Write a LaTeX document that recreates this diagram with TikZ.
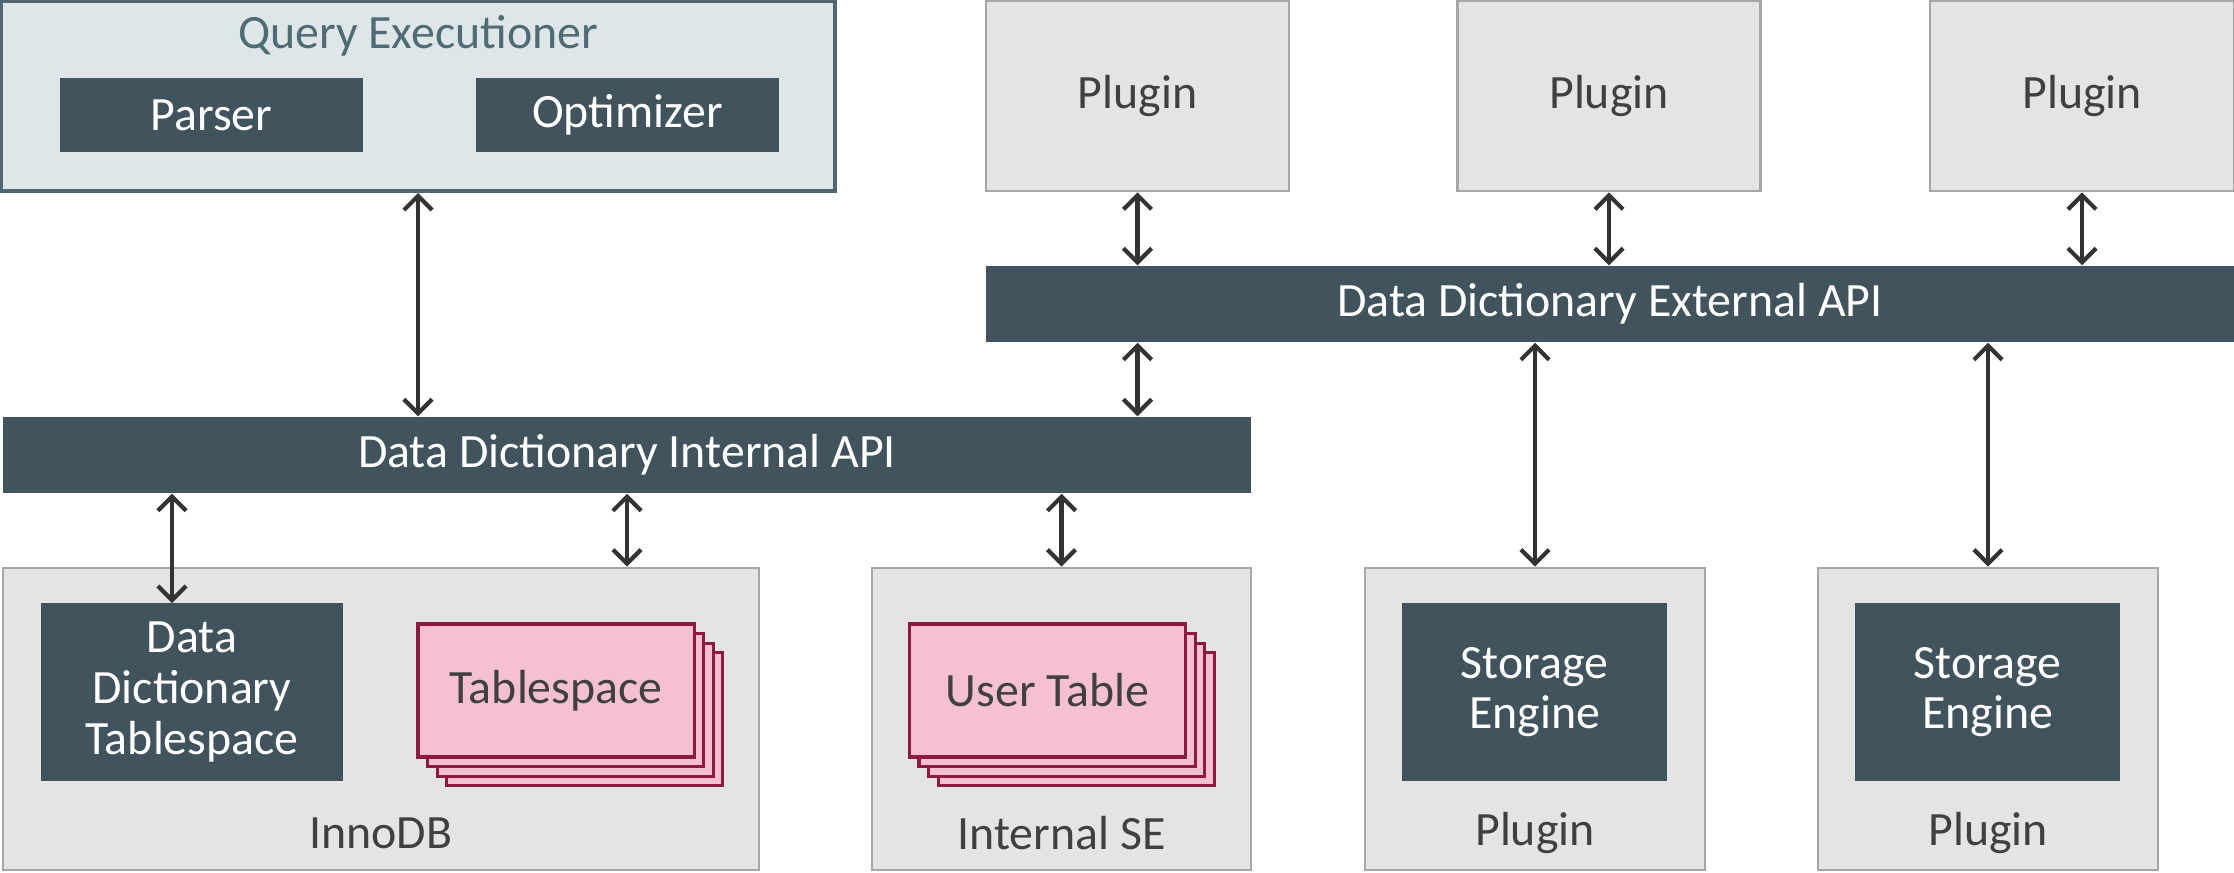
\documentclass[tikz,border=0pt]{standalone}
\usepackage{fontspec}
\setmainfont{Carlito}
\usepackage{tikz}
\usetikzlibrary{arrows.meta, positioning, calc}
\definecolor{slate}{HTML}{41535D}
\definecolor{qefill}{HTML}{DFE6E9}
\definecolor{qeline}{HTML}{506670}
\definecolor{qetext}{HTML}{4F6B73}
\definecolor{boxgray}{HTML}{E4E4E4}
\definecolor{linegray}{HTML}{A6A6A6}
\definecolor{pinkfill}{HTML}{F5C0D2}
\definecolor{pinkline}{HTML}{8C1B44}
\definecolor{textgray}{HTML}{404040}
\definecolor{arrowgray}{HTML}{333333}
\tikzset{
    block_dark/.style={rectangle, fill=slate, text=white, align=center, inner sep=0pt},
    block_gray/.style={rectangle, draw=linegray, line width=0.7pt, fill=boxgray, text=textgray, inner sep=0pt},
    block_qe/.style={rectangle, draw=qeline, line width=1.1pt, fill=qefill, inner sep=0pt},
    block_pink/.style={rectangle, draw=pinkline, line width=0.9pt, fill=pinkfill, text=textgray, inner sep=0pt, minimum width=2.76cm, minimum height=1.33cm},
    lbl/.style={text=textgray, inner sep=0pt},
    arrow/.style={{Straight Barb[length=4pt,width=8pt]}-{Straight Barb[length=4pt,width=8pt]}, line width=1.2pt, draw=arrowgray}
}

\begin{document}
\begin{tikzpicture}[x=0.01cm, y=-0.01cm, font=\fontsize{13.6}{14.4}\selectfont]
			\useasboundingbox (0,0) rectangle (2234,872);
			% top row
			\node (qe) [block_qe, minimum width=8.34cm, minimum height=1.9cm] at (418,96) {};
			\node (qetitle) [text=qetext, inner sep=0pt] at (418,36) {Query Executioner};
			\node (parser) [block_dark, minimum width=3.03cm, minimum height=0.74cm] at (211.5,115) {Parser};
			\node (optimizer) [block_dark, minimum width=3.03cm, minimum height=0.74cm] at (627.5,115) {Optimizer};
			\node (plugA) [block_gray, minimum width=3.03cm, minimum height=1.9cm] at (1137.5,96) {Plugin};
			\node (plugB) [block_gray, minimum width=3.03cm, minimum height=1.9cm] at (1609,96) {Plugin};
			\node (plugC) [block_gray, minimum width=3.04cm, minimum height=1.9cm] at (2082,96) {Plugin};

			% API bars
			\node (extapi) [block_dark, minimum width=12.48cm, minimum height=0.76cm] at (1610,304) {Data Dictionary External API};
			\node (intapi) [block_dark, minimum width=12.48cm, minimum height=0.76cm] at (627,455) {Data Dictionary Internal API};

			% bottom row
			\node (innodb) [block_gray, minimum width=7.56cm, minimum height=3.02cm] at (381,719) {};
			\node (ddts) [block_dark, minimum width=3.02cm, minimum height=1.78cm] at (192,692) {Data\\Dictionary\\Tablespace};
			\foreach \i in {3,2,1}
				\node (tsback\i) [block_pink] at (556+9.6*\i,690.5+9.6*\i) {};
			\node (ts) [block_pink] at (556,690.5) {Tablespace};
			\node (innodblbl) [lbl] at (381,833) {InnoDB};

			\node (intse) [block_gray, minimum width=3.79cm, minimum height=3.02cm] at (1061.5,719) {};
			\foreach \i in {3,2,1}
				\node (utback\i) [block_pink] at (1047.5+9.6*\i,690.5+9.6*\i) {};
			\node (ut) [block_pink] at (1047.5,690.5) {User Table};
			\node (intselbl) [lbl] at (1061.5,833) {Internal SE};

			\node (plugD) [block_gray, minimum width=3.4cm, minimum height=3.02cm] at (1535,719) {};
			\node (seA) [block_dark, minimum width=2.65cm, minimum height=1.78cm] at (1534.5,692) {Storage\\Engine};
			\node (plugDlbl) [lbl] at (1535,833) {Plugin};

			\node (plugE) [block_gray, minimum width=3.4cm, minimum height=3.02cm] at (1988,719) {};
			\node (seB) [block_dark, minimum width=2.65cm, minimum height=1.78cm] at (1987.5,692) {Storage\\Engine};
			\node (plugElbl) [lbl] at (1988,833) {Plugin};

			\coordinate (ddtop) at (172,603);

			% connectors
			\draw [arrow] (qe.south) -- (qe.south |- intapi.north);
			\draw [arrow] (plugA.south) -- (plugA.south |- extapi.north);
			\draw [arrow] (plugB.south) -- (plugB.south |- extapi.north);
			\draw [arrow] (plugC.south) -- (plugC.south |- extapi.north);
			\draw [arrow] (extapi.south -| plugA) -- (intapi.north -| plugA);
			\draw [arrow] (extapi.south -| plugD) -- (plugD.north);
			\draw [arrow] (extapi.south -| plugE) -- (plugE.north);
			\draw [arrow] (intapi.south -| ddtop) -- (ddtop);
			\draw [arrow] (intapi.south) -- (intapi.south |- innodb.north);
			\draw [arrow] (intapi.south -| intse) -- (intse.north);
		\end{tikzpicture}
\end{document}
